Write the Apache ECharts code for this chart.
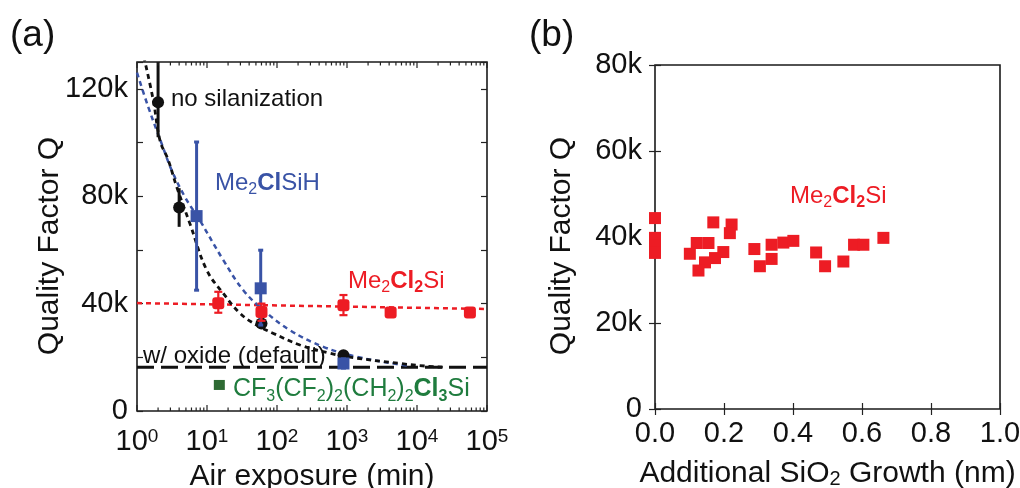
<!DOCTYPE html>
<html>
<head>
<meta charset="utf-8">
<script src="https://cdn.jsdelivr.net/npm/echarts@6/dist/echarts.min.js"></script>
<style>
html, body { margin: 0; padding: 0; background: #fff; }
#chart { width: 1020px; height: 488px; }
</style>
</head>
<body>
<div id="chart"></div>
<script>
const FONT = "'Liberation Sans', Arial, Helvetica, sans-serif"

// ---- panel (a): Q vs air exposure ----
const noSilT = [2.0, 4.0, 60, 890]
const noSilQ = [115000, 75800, 32600, 20800]
const noSilLo = [102000, 68600, null, null]
const noSilHi = [130000, 83000, null, null]

const clsihT = [7.1, 58.5, 890]
const clsihQ = [72600, 45700, 17700]
const clsihLo = [45000, 32000, 16000]
const clsihHi = [100200, 59900, 19400]

const cl2siT = [14.5, 60, 890, 4200, 57000]
const cl2siQ = [40100, 36900, 39400, 36700, 36700]
const cl2siLo = [36600, 33600, 35700, 35200, 35200]
const cl2siHi = [44400, 40000, 43200, 38200, 38200]

const cf3T = [15]
const cf3Q = [9700]

// fit curves
const blackFitT = [1.25, 1.71, 2.13, 2.8, 3.69, 5.7, 9.9, 17.1, 29.6, 51, 89, 213, 572, 995, 5700, 17000, 25000]
const blackFitQ = [132000, 115700, 100800, 93400, 83500, 69800, 52500, 43800, 36400, 32000, 28900, 24600, 21500, 20200, 17700, 16500, 16300]
const blueFitT = [1.0, 1.45, 2.25, 3.13, 4.85, 7.9, 17.1, 33, 64, 153, 460, 1380, 5100, 8000]
const blueFitQ = [126000, 113200, 99600, 89700, 79700, 71000, 56200, 45000, 37600, 30100, 23900, 20200, 17500, 16800]
const redFitT = [1, 100000]
const redFitQ = [40200, 38000]
const oxideT = [1, 100000]
const oxideQ = [16300, 16300]

const xTicksA = [1, 10, 100, 1000, 10000, 100000]

// ---- panel (b): Q vs additional SiO2 growth ----
const growthX = [0, 0, 0, 0, 0.169, 0.222, 0.217, 0.121, 0.155, 0.101, 0.198, 0.174, 0.145, 0.126,
  0.288, 0.338, 0.372, 0.401, 0.338, 0.304, 0.467, 0.493, 0.546, 0.577, 0.604, 0.662]
const growthQ = [44400, 39800, 38000, 36300, 43400, 42900, 40900, 38600, 38600, 36100, 36500, 35100, 34100, 32200,
  37200, 38200, 38700, 39100, 34900, 33200, 36400, 33200, 34300, 38200, 38200, 39800]

const RED = '#ed1c24'
const BLUE = '#3953a6'
const BLACK = '#111111'
const GREEN_MK = '#2e6a33'
const GREEN_TX = '#1f7c3e'

// minor log ticks 2..9 per decade
const xMinorA = []
for (let d = 0; d < 5; d++) {
  for (let k = 2; k <= 9; k++) xMinorA.push(k * Math.pow(10, d))
}

const zip = (a, b) => a.map((v, i) => [v, b[i]])
const bars = (t, lo, hi) => t.map((v, i) => [v, lo[i], hi[i]]).filter(d => d[1] != null)

function errorBar(color, lw, cap) {
  return function (params, api) {
    const x = api.value(0)
    const p1 = api.coord([x, api.value(1)])
    const p2 = api.coord([x, api.value(2)])
    const children = [{
      type: 'line',
      shape: { x1: p1[0], y1: p1[1], x2: p2[0], y2: p2[1] },
      style: { stroke: color, lineWidth: lw }
    }]
    if (cap) {
      children.push({ type: 'line', shape: { x1: p1[0] - cap, y1: p1[1], x2: p1[0] + cap, y2: p1[1] }, style: { stroke: color, lineWidth: lw } })
      children.push({ type: 'line', shape: { x1: p2[0] - cap, y1: p2[1], x2: p2[0] + cap, y2: p2[1] }, style: { stroke: color, lineWidth: lw } })
    }
    return { type: 'group', children }
  }
}

// log-axis tick marks (bottom and top) placed through the log scale
function logTicks(params, api) {
  const cs = params.coordSys
  const p = api.coord([api.value(0), 50000])
  const len = api.value(1)
  const st = { stroke: '#222', lineWidth: 1.2 }
  return {
    type: 'group',
    children: [
      { type: 'line', shape: { x1: p[0], y1: cs.y + cs.height, x2: p[0], y2: cs.y + cs.height - len }, style: st },
      { type: 'line', shape: { x1: p[0], y1: cs.y, x2: p[0], y2: cs.y + len }, style: st }
    ]
  }
}

const kfmt = v => (v === 0 ? '0' : v / 1000 + 'k')
const kfmt40 = v => (v % 40000 === 0 ? kfmt(v) : '')
const subRich = (color, size) => ({
  n: { fontFamily: FONT, fontSize: size, color: color, lineHeight: size + 6 },
  b: { fontFamily: FONT, fontSize: size, color: color, fontWeight: 'bold', lineHeight: size + 6 },
  s: { fontFamily: FONT, fontSize: Math.round(size * 0.65), color: color, verticalAlign: 'bottom', lineHeight: Math.round(size * 0.65) },
  sb: { fontFamily: FONT, fontSize: Math.round(size * 0.65), color: color, fontWeight: 'bold', verticalAlign: 'bottom', lineHeight: Math.round(size * 0.65) }
})

function label(x, y, text, color, size) {
  return {
    type: 'text', x: x, y: y, z: 100,
    style: { text: text, fill: color, font: size + 'px ' + FONT, verticalAlign: 'middle', align: 'left', rich: subRich(color, size) }
  }
}

const tick6 = { show: true, inside: true, length: 6, lineStyle: { color: '#222', width: 1.2 } }

const chart = echarts.init(document.getElementById('chart'))

const option = {
  animation: false,
  backgroundColor: '#fff',
  textStyle: { fontFamily: FONT },
  grid: [
    { left: 137, top: 62, width: 350, height: 349, outerBoundsMode: 'none', containLabel: false,
      show: true, borderColor: '#1a1a1a', borderWidth: 1.6, backgroundColor: 'transparent' },
    { left: 655, top: 65, width: 345, height: 344, outerBoundsMode: 'none', containLabel: false,
      show: true, borderColor: '#1a1a1a', borderWidth: 1.6, backgroundColor: 'transparent' }
  ],
  xAxis: [
    {
      type: 'log', gridIndex: 0, min: 1, max: 100000, position: 'bottom',
      axisLine: { show: false }, splitLine: { show: false }, axisTick: { show: false },
      axisLabel: {
        customValues: xTicksA, margin: 16, color: '#111',
        formatter: v => '{m|10}{p|' + Math.round(Math.log10(v)) + '}',
        rich: {
          m: { fontFamily: FONT, fontSize: 29, color: '#111', lineHeight: 30 },
          p: { fontFamily: FONT, fontSize: 19, color: '#111', verticalAlign: 'top', lineHeight: 19 }
        }
      },
      name: 'Air exposure (min)', nameLocation: 'middle', nameGap: 49,
      nameTextStyle: { fontFamily: FONT, fontSize: 30, color: '#111' }
    },
    {
      type: 'value', gridIndex: 1, min: 0, max: 1, interval: 0.2, position: 'bottom',
      axisLine: { show: false }, splitLine: { show: false },
      axisTick: tick6,
      axisLabel: { margin: 10, fontFamily: FONT, fontSize: 29, color: '#111', formatter: v => v.toFixed(1) },
      name: 'Additional SiO{s|2} Growth (nm)', nameLocation: 'middle', nameGap: 50,
      nameTextStyle: {
        fontFamily: FONT, fontSize: 30, color: '#111',
        rich: { s: { fontFamily: FONT, fontSize: 20, color: '#111', verticalAlign: 'bottom', lineHeight: 20 } }
      }
    },
    {
      type: 'value', gridIndex: 1, min: 0, max: 1, interval: 0.2, position: 'top',
      axisLine: { show: false }, splitLine: { show: false }, axisLabel: { show: false },
      axisTick: tick6
    }
  ],
  yAxis: [
    {
      type: 'value', gridIndex: 0, min: 0, max: 130000, interval: 20000, position: 'left',
      axisLine: { show: false }, splitLine: { show: false },
      axisTick: tick6,
      axisLabel: { margin: 9, fontFamily: FONT, fontSize: 29, color: '#111', formatter: kfmt40 }
    },
    {
      type: 'value', gridIndex: 0, min: 0, max: 130000, interval: 20000, position: 'right',
      axisLine: { show: false }, splitLine: { show: false }, axisLabel: { show: false },
      axisTick: tick6
    },
    {
      type: 'value', gridIndex: 1, min: 0, max: 80000, interval: 20000, position: 'left',
      axisLine: { show: false }, splitLine: { show: false },
      axisTick: tick6,
      axisLabel: { margin: 13, fontFamily: FONT, fontSize: 29, color: '#111', formatter: kfmt }
    },
    {
      type: 'value', gridIndex: 1, min: 0, max: 80000, interval: 20000, position: 'right',
      axisLine: { show: false }, splitLine: { show: false }, axisLabel: { show: false },
      axisTick: tick6
    }
  ],
  series: [
    // log axis ticks
    { type: 'custom', xAxisIndex: 0, yAxisIndex: 0, z: 10, silent: true, renderItem: logTicks,
      data: xTicksA.map(v => [v, 6]).concat(xMinorA.map(v => [v, 3.5])), encode: { x: 0 } },

    // reference lines and fits
    { type: 'line', xAxisIndex: 0, yAxisIndex: 0, data: zip(oxideT, oxideQ), symbol: 'none', z: 2,
      lineStyle: { color: '#111', width: 3, type: [17, 7] } },
    { type: 'line', xAxisIndex: 0, yAxisIndex: 0, data: zip(redFitT, redFitQ), symbol: 'none', z: 2,
      lineStyle: { color: RED, width: 2.5, type: [5, 4] } },
    { type: 'line', xAxisIndex: 0, yAxisIndex: 0, data: zip(blueFitT, blueFitQ), symbol: 'none', smooth: 0.4, z: 2,
      lineStyle: { color: BLUE, width: 2.5, type: [5, 4] } },
    { type: 'line', xAxisIndex: 0, yAxisIndex: 0, data: zip(blackFitT, blackFitQ), symbol: 'none', smooth: 0.4, z: 2,
      lineStyle: { color: '#111', width: 2.8, type: [5, 4] } },

    // no silanization
    { type: 'custom', xAxisIndex: 0, yAxisIndex: 0, data: bars(noSilT, noSilLo, noSilHi), z: 3,
      renderItem: errorBar(BLACK, 3, 0), encode: { x: 0, y: [1, 2] } },
    { type: 'scatter', xAxisIndex: 0, yAxisIndex: 0, data: zip(noSilT, noSilQ), symbol: 'circle', symbolSize: 12, z: 3,
      itemStyle: { color: BLACK, opacity: 1 } },

    // Me2ClSiH
    { type: 'custom', xAxisIndex: 0, yAxisIndex: 0, data: bars(clsihT, clsihLo, clsihHi), z: 4,
      renderItem: errorBar(BLUE, 3, 2.5), encode: { x: 0, y: [1, 2] } },
    { type: 'scatter', xAxisIndex: 0, yAxisIndex: 0, data: zip(clsihT, clsihQ), symbol: 'rect', symbolSize: 12, z: 4,
      itemStyle: { color: BLUE, opacity: 1 } },

    // Me2Cl2Si
    { type: 'custom', xAxisIndex: 0, yAxisIndex: 0, data: bars(cl2siT, cl2siLo, cl2siHi), z: 5,
      renderItem: errorBar(RED, 2.2, 4), encode: { x: 0, y: [1, 2] } },
    { type: 'scatter', xAxisIndex: 0, yAxisIndex: 0, data: zip(cl2siT, cl2siQ), symbol: 'roundRect', symbolSize: 12, z: 5,
      itemStyle: { color: RED, opacity: 1 } },

    // CF3(CF2)2(CH2)2Cl3Si
    { type: 'scatter', xAxisIndex: 0, yAxisIndex: 0, data: zip(cf3T, cf3Q), symbol: 'rect', symbolSize: [11, 10], z: 5,
      itemStyle: { color: GREEN_MK, opacity: 1 } },

    // panel (b)
    { type: 'scatter', xAxisIndex: 1, yAxisIndex: 2, data: zip(growthX, growthQ), symbol: 'rect', symbolSize: 12, z: 5,
      itemStyle: { color: RED, opacity: 1 } }
  ],
  graphic: [
    { type: 'text', x: 10, y: 36, style: { text: '(a)', fill: '#111', font: '37px ' + FONT, verticalAlign: 'middle' } },
    { type: 'text', x: 529, y: 36, style: { text: '(b)', fill: '#111', font: '37px ' + FONT, verticalAlign: 'middle' } },
    { type: 'text', x: 50, y: 246, rotation: Math.PI / 2,
      style: { text: 'Quality Factor Q', fill: '#111', font: '30px ' + FONT, align: 'center', verticalAlign: 'middle' } },
    { type: 'text', x: 562, y: 246, rotation: Math.PI / 2,
      style: { text: 'Quality Factor Q', fill: '#111', font: '30px ' + FONT, align: 'center', verticalAlign: 'middle' } },
    label(171, 99, '{n|no silanization}', '#111', 24),
    label(215, 183, '{n|Me}{s|2}{b|Cl}{n|SiH}', BLUE, 24),
    label(348, 281, '{n|Me}{s|2}{b|Cl}{sb|2}{n|Si}', RED, 24),
    label(143, 356, '{n|w/ oxide (default)}', '#111', 24),
    label(233, 389, '{n|CF}{s|3}{n|(CF}{s|2}{n|)}{s|2}{n|(CH}{s|2}{n|)}{s|2}{b|Cl}{sb|3}{n|Si}', GREEN_TX, 25),
    label(790, 196, '{n|Me}{s|2}{b|Cl}{sb|2}{n|Si}', RED, 24)
  ]
}

chart.setOption(option)
window.addEventListener('resize', () => chart.resize())
</script>
</body>
</html>
